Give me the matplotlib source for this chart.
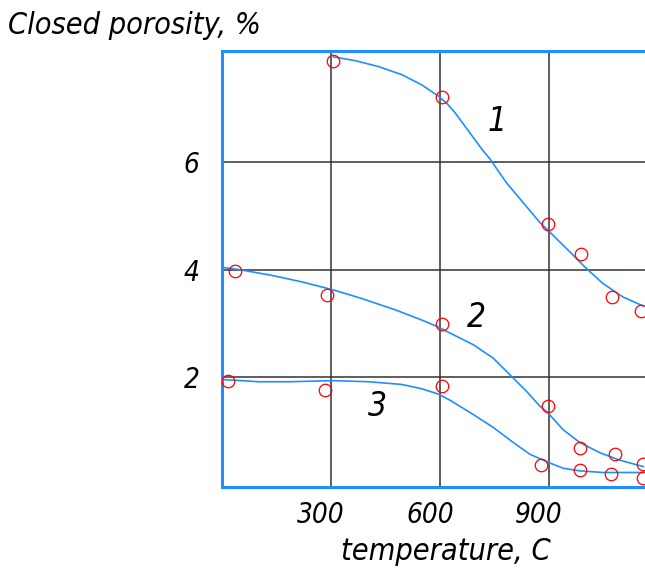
import matplotlib.pyplot as plt
from matplotlib.transforms import ScaledTranslation

# fitted curves (temperature C, closed porosity %)
curve1_t = [307, 367, 431, 495, 550, 596, 620, 642, 679, 716, 738, 783, 829, 875,
            898, 949, 999, 1049, 1104, 1160]
curve1_p = [7.96, 7.89, 7.78, 7.63, 7.44, 7.23, 7.09, 6.92, 6.58, 6.24, 6.06, 5.62,
            5.25, 4.88, 4.73, 4.39, 4.05, 3.74, 3.49, 3.32]
curve2_t = [2, 55, 138, 220, 307, 385, 477, 550, 596, 627, 692, 747, 793, 839,
            875, 898, 939, 985, 1040, 1095, 1160]
curve2_p = [4.04, 3.99, 3.89, 3.77, 3.62, 3.46, 3.25, 3.06, 2.93, 2.82, 2.60,
            2.35, 2.04, 1.73, 1.46, 1.33, 1.02, 0.78, 0.59, 0.45, 0.33]
curve3_t = [2, 55, 101, 183, 307, 404, 495, 550, 596, 627, 692, 747, 802, 848,
            898, 939, 985, 1049, 1160]
curve3_p = [1.95, 1.93, 1.91, 1.91, 1.93, 1.91, 1.86, 1.78, 1.68, 1.57, 1.30,
            1.06, 0.78, 0.56, 0.41, 0.30, 0.25, 0.22, 0.22]

# measured points
pts1_t = [307, 605, 898, 990, 1075, 1155]
pts1_p = [7.89, 7.22, 4.85, 4.28, 3.49, 3.23]
pts2_t = [35, 289, 606, 898, 985, 1083, 1160]
pts2_p = [3.97, 3.52, 2.99, 1.46, 0.67, 0.57, 0.38]
pts3_t = [18, 283, 606, 880, 985, 1071, 1160]
pts3_p = [1.93, 1.75, 1.83, 0.36, 0.27, 0.19, 0.12]

labels = ['1', '2', '3']
label_pos = [(757, 6.75), (702, 3.1), (429, 1.45)]

xticks = [300, 600, 900]
yticks = [2, 4, 6]

blue = '#1e8fff'
font = dict(family='DejaVu Sans', style='oblique', stretch='condensed')

fig = plt.figure(figsize=(6.45, 5.74), dpi=100)
ax = fig.add_axes([0.344, 0.1516, 0.656, 0.7596])

for t, p in [(curve1_t, curve1_p), (curve2_t, curve2_p), (curve3_t, curve3_p)]:
    ax.plot(t, p, color=blue, lw=1.2, zorder=3)
for t, p in [(pts1_t, pts1_p), (pts2_t, pts2_p), (pts3_t, pts3_p)]:
    ax.plot(t, p, 'o', ms=9, mfc='none', mec='red', mew=0.9, zorder=4)

for lab, (x, y) in zip(labels, label_pos):
    ax.text(x, y, lab, fontsize=24, ha='center', va='center', **font)

ax.set_xlim(0, 1165)
ax.set_ylim(-0.05, 8.07)
ax.set_xticks(xticks)
ax.set_yticks(yticks)
ax.set_xticklabels([str(v) for v in xticks], fontsize=20, **font)
ax.set_yticklabels([str(v) for v in yticks], fontsize=20, **font)
ax.tick_params(length=0)
ax.tick_params(axis='y', pad=16)
ax.tick_params(axis='x', pad=10)
# italic labels in the original sit a little left of their grid lines
shift = ScaledTranslation(-7 / 72, 0, fig.dpi_scale_trans)
for lbl in ax.get_xticklabels():
    lbl.set_transform(lbl.get_transform() + shift)
ax.grid(True, color='#333333', lw=1.1)
ax.set_axisbelow(True)
for s in ['left', 'top', 'bottom']:
    ax.spines[s].set_color(blue)
    ax.spines[s].set_linewidth(2.2)
ax.spines['right'].set_visible(False)

fig.text(0.012, 0.955, 'Closed porosity, %', fontsize=22, ha='left', va='center', **font)
ax.set_xlabel('temperature, C', fontsize=22, **font)
ax.xaxis.set_label_coords(0.53, -0.115)

fig.savefig('out.png', dpi=100)
